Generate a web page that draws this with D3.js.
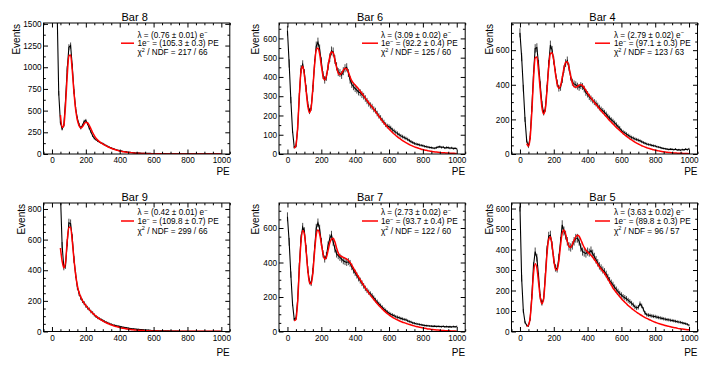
<!DOCTYPE html>
<html><head><meta charset="utf-8">
<script src="https://cdn.jsdelivr.net/npm/d3@7/dist/d3.min.js"></script>
<style>
body{margin:0;background:#fff;}
svg{display:block;font-family:"Liberation Sans",Arial,Helvetica,sans-serif;}
</style></head><body>
<svg id="c" width="714" height="365"></svg>
<script>
// ---------- data ----------
const peBins = d3.range(0, 1001, 10); // bin centres in PE

const titles = ["Bar 8", "Bar 6", "Bar 4", "Bar 9", "Bar 7", "Bar 5"];
const lambdaText = ["0.76 \u00b1 0.01", "3.09 \u00b1 0.02", "2.79 \u00b1 0.02", "0.42 \u00b1 0.01", "2.73 \u00b1 0.02", "3.63 \u00b1 0.02"];
const gainText = ["105.3 \u00b1 0.3", "92.2 \u00b1 0.4", "97.1 \u00b1 0.3", "109.8 \u00b1 0.7", "93.7 \u00b1 0.4", "89.8 \u00b1 0.3"];
const chi2Text = ["217 / 66", "125 / 60", "123 / 63", "299 / 66", "122 / 60", "96 / 57"];
const yMaxes = [1510, 680, 757, 839, 745, 627];
const yMajorStep = [250, 100, 200, 200, 200, 100];
const yMinorStep = [125, 50, 50, 50, 50, 50];
const xMajorTicks = [0, 200, 400, 600, 800, 1000];

const bar8Counts = [9000,9000,6000,1700,700,360,290,330,620,980,
 1230,1250,1010,720,520,410,340,300,330,375,
 385,350,300,255,210,180,165,150,138,128,
 120,108,97,87,78,70,62,55,48,43,
 38,34,30,27,24,21,19,17,15,13,
 12,11,10,9,9,8,8,7,7,6,
 6,5,5,5,4,4,4,4,3,3,
 3,3,3,3,3,2,2,2,2,2,
 2,2,2,2,2,1,1,1,1,1,
 1,1,1,1,1,1,1,1,1,1,1];
const bar8Fit = [null,null,null,null,null,450,305,330,560,900,
 1130,1140,960,710,510,390,325,300,315,345,
 365,360,330,290,248,212,182,160,142,128,
 116,104,93,83,74,66,58,51,45,40,
 35,31,27,24,21,18,16,14,12,10,
 9,8,7,6,5,5,4,4,3,3,
 3,2,2,2,2,2,1,1,1,1,
 1,1,1,1,1,1,1,1,1,1,
 1,1,1,1,1,1,1,1,1,1,
 1,1,1,1,1,1,1,1,1,1,1];

const bar6Counts = [640,470,280,120,35,40,130,300,440,465,
 420,340,260,222,240,340,470,560,580,545,
 480,410,385,400,455,500,535,530,490,455,
 425,420,410,430,445,450,420,385,362,350,
 340,332,322,318,308,300,288,275,262,252,
 245,232,225,210,198,188,175,165,152,145,
 142,135,125,120,112,107,100,94,90,85,
 81,76,70,64,60,55,52,50,47,45,
 43,40,38,36,34,33,31,30,33,36,
 38,34,36,31,34,33,30,32,28,30,27];
const bar6Fit = [null,null,null,null,30,45,135,300,430,455,
 410,330,250,215,240,340,460,540,550,520,
 460,405,385,405,455,505,530,525,490,450,
 420,412,420,435,445,442,425,400,380,368,
 358,348,338,326,314,302,290,278,266,255,
 244,232,220,208,196,184,172,161,150,140,
 130,121,112,104,96,89,82,76,70,64,
 59,54,49,45,41,37,34,31,28,25,
 23,21,19,17,15,14,12,11,10,9,
 8,7,7,6,5,5,4,4,4,3,3];

const bar4Counts = [700,560,380,200,75,45,95,260,460,610,
 615,520,400,290,238,260,380,520,630,600,
 540,470,410,380,385,430,490,525,540,500,
 445,415,405,400,392,385,395,390,375,355,
 345,330,320,310,300,292,280,268,258,250,
 240,230,218,208,198,190,180,170,158,150,
 135,128,122,115,108,102,96,92,87,84,
 80,76,71,66,62,58,55,53,50,48,
 46,42,40,37,34,32,30,28,26,28,
 27,25,28,23,25,22,26,24,28,25,30];
const bar4Fit = [null,null,null,null,60,45,90,240,430,555,
 560,480,370,270,232,260,370,500,580,585,
 540,465,405,380,395,440,495,530,533,500,
 450,410,390,385,390,398,400,395,383,368,
 352,338,324,311,298,286,274,262,250,238,
 227,216,205,194,184,174,164,154,145,136,
 127,118,110,102,95,88,81,75,69,63,
 58,53,48,44,40,36,33,30,27,24,
 22,20,18,16,14,13,11,10,9,8,
 7,6,6,5,5,4,4,3,3,3,2];

const bar9Counts = [9000,9000,9000,9000,5000,900,560,420,430,580,
 710,705,610,470,370,290,248,220,200,185,
 168,155,145,130,122,108,98,90,84,78,
 72,66,61,56,51,47,43,40,37,35,
 33,30,28,26,24,22,20,18,17,16,
 15,14,13,12,11,10,9,9,8,7,
 7,6,6,5,5,5,4,4,4,4,
 3,3,3,3,3,3,2,2,2,2,
 2,2,2,2,2,2,2,2,1,1,
 1,1,1,1,1,1,1,1,1,1,1];
const bar9Fit = [null,null,null,null,null,545,460,415,450,590,
 680,680,590,470,370,300,255,225,202,185,
 170,156,143,131,120,110,100,91,83,76,
 69,63,57,52,47,43,39,35,32,29,
 26,23,21,19,17,15,13,12,11,10,
 9,8,7,6,6,5,5,4,4,4,
 3,3,3,2,2,2,2,2,1,1,
 1,1,1,1,1,1,1,1,1,1,
 1,1,1,1,1,1,1,1,1,1,
 1,1,1,1,1,1,1,1,1,1,1];

const bar7Counts = [665,520,330,160,70,75,180,380,540,605,
 580,480,360,290,280,350,480,600,630,595,
 520,450,420,440,500,540,560,520,480,450,
 440,430,420,410,405,400,405,395,375,355,
 340,325,308,295,280,265,250,238,228,218,
 208,195,182,172,160,150,140,130,122,113,
 106,100,96,92,86,83,80,76,73,70,
 68,62,58,55,50,48,45,43,41,39,
 37,35,34,33,32,31,30,31,29,30,
 29,28,30,27,29,27,28,26,29,27,29];
const bar7Fit = [null,null,null,null,62,70,170,360,520,585,
 565,470,355,285,275,340,460,560,588,565,
 510,450,420,430,470,515,535,540,520,485,
 455,440,435,430,425,420,412,400,385,368,
 350,333,316,300,284,268,253,238,224,211,
 198,186,174,162,151,141,131,121,112,104,
 96,89,83,77,72,67,62,58,54,51,
 48,44,41,38,35,32,29,27,25,23,
 21,19,17,15,14,12,11,10,9,8,
 7,6,6,5,5,4,4,3,3,3,2];

const bar5Counts = [610,260,100,45,30,28,60,170,320,390,
 360,270,170,138,160,270,400,465,470,420,
 350,310,305,360,440,520,490,470,440,415,
 410,420,440,455,455,440,410,390,385,380,
 390,385,395,380,365,350,335,320,310,300,
 292,280,265,250,238,228,215,205,195,185,
 178,170,165,160,152,146,138,130,120,115,
 118,135,125,108,90,82,80,78,76,74,
 73,70,68,66,64,62,60,58,57,55,
 54,52,50,48,46,45,42,40,38,35,30];
const bar5Fit = [null,null,null,null,25,30,65,160,280,330,
 310,240,165,135,160,260,380,450,462,420,
 350,305,300,345,420,480,495,475,440,415,
 410,425,445,462,470,465,448,428,410,397,
 388,380,372,362,351,340,328,315,305,294,
 284,270,256,242,228,212,201,190,180,170,
 160,151,143,135,127,120,113,106,100,94,
 88,83,78,73,68,64,60,56,52,48,
 45,42,39,37,34,32,29,27,25,23,
 21,19,18,16,14,13,12,11,10,9,8];

const countSets = [bar8Counts, bar6Counts, bar4Counts, bar9Counts, bar7Counts, bar5Counts];
const fitSets = [bar8Fit, bar6Fit, bar4Fit, bar9Fit, bar7Fit, bar5Fit];

// ---------- layout ----------
const cols = [{l:43.5, r:229.8, legX:137.5, lx1:121, lx2:134},
              {l:279, r:465.2, legX:381, lx1:362, lx2:378},
              {l:511.5, r:697.5, legX:614, lx1:595, lx2:610}];
const rows = [{t:23, b:154, leg:[34.5, 43.2, 52], peY:175},
              {t:203, b:331.5, leg:[212, 221, 230.5], peY:355.5}];
const yTitleX = [19.5, 259, 492.5, 25, 259, 492.5];

const svg = d3.select("#c");
const defs = svg.append("defs");
const FONT = '"Liberation Sans",Arial,Helvetica,sans-serif';

function addSup(textSel, parts) {
  let up = false;
  parts.forEach(([s, sup]) => {
    const t = textSel.append("tspan").text(s);
    if (sup) { t.attr("font-size", 5.6).attr("dy", -3.2); up = true; }
    else if (up) { t.attr("dy", 3.2); up = false; }
  });
}

titles.forEach((title, i) => {
  const col = cols[i % 3], row = rows[Math.floor(i / 3)];
  const L = col.l, R = col.r, T = row.t, B = row.b;
  const x = d3.scaleLinear().domain([-50, 1050]).range([L, R]);
  const y = d3.scaleLinear().domain([0, yMaxes[i]]).range([B, T]);
  const g = svg.append("g");

  defs.append("clipPath").attr("id", "clip" + i)
    .append("rect").attr("x", L).attr("y", T).attr("width", R - L).attr("height", B - T);
  const pg = g.append("g").attr("clip-path", `url(#clip${i})`);

  const counts = countSets[i];
  const pts = peBins.map((p, k) => ({pe: p, v: counts[k]}));
  // error bars
  pg.selectAll("line.err").data(pts).join("line").attr("class", "err")
    .attr("x1", d => x(d.pe)).attr("x2", d => x(d.pe))
    .attr("y1", d => y(d.v + Math.sqrt(d.v)))
    .attr("y2", d => y(Math.max(0, d.v - Math.sqrt(d.v))))
    .attr("stroke", "#4a4a4a").attr("stroke-width", 1);
  // data line
  pg.append("path").datum(pts)
    .attr("d", d3.line().x(d => x(d.pe)).y(d => y(d.v)))
    .attr("fill", "none").attr("stroke", "#000").attr("stroke-width", 1.1);
  // fit
  const fit = fitSets[i];
  const fpts = peBins.map((p, k) => ({pe: p, v: fit[k]}));
  pg.append("path").datum(fpts)
    .attr("d", d3.line().defined(d => d.v !== null).curve(d3.curveMonotoneX)
      .x(d => x(d.pe)).y(d => y(d.v)))
    .attr("fill", "none").attr("stroke", "#ff0000").attr("stroke-width", 1.5);

  // axes
  const xMinor = d3.range(-50, 1051, 50).filter(v => v % 200 !== 0);
  const yMajor = d3.range(0, yMaxes[i] + 1, yMajorStep[i]);
  const yMinor = d3.range(0, yMaxes[i] + 1, yMinorStep[i]).filter(v => v % yMajorStep[i] !== 0);

  const styleAxis = sel => {
    sel.select(".domain").remove();
    sel.attr("font-family", FONT).attr("font-size", 8.2);
    sel.selectAll("line").attr("stroke", "#000").attr("stroke-width", 1);
    sel.selectAll("text").attr("fill", "#000");
  };
  g.append("g").attr("transform", `translate(0,${B})`)
    .call(d3.axisBottom(x).tickValues(xMajorTicks).tickSize(-4.5).tickPadding(3.4).tickFormat(d3.format("d")))
    .call(styleAxis);
  g.append("g").attr("transform", `translate(0,${B})`)
    .call(d3.axisBottom(x).tickValues(xMinor).tickSize(-2.3).tickFormat(""))
    .call(styleAxis);
  g.append("g").attr("transform", `translate(0,${T})`)
    .call(d3.axisTop(x).tickValues(xMajorTicks).tickSize(-4.5).tickFormat(""))
    .call(styleAxis);
  g.append("g").attr("transform", `translate(0,${T})`)
    .call(d3.axisTop(x).tickValues(xMinor).tickSize(-2.3).tickFormat(""))
    .call(styleAxis);
  g.append("g").attr("transform", `translate(${L},0)`)
    .call(d3.axisLeft(y).tickValues(yMajor).tickSize(-4.5).tickPadding(2).tickFormat(d3.format("d")))
    .call(styleAxis);
  g.append("g").attr("transform", `translate(${L},0)`)
    .call(d3.axisLeft(y).tickValues(yMinor).tickSize(-2.3).tickFormat(""))
    .call(styleAxis);
  g.append("g").attr("transform", `translate(${R},0)`)
    .call(d3.axisRight(y).tickValues(yMajor).tickSize(-4.5).tickFormat(""))
    .call(styleAxis);
  g.append("g").attr("transform", `translate(${R},0)`)
    .call(d3.axisRight(y).tickValues(yMinor).tickSize(-2.3).tickFormat(""))
    .call(styleAxis);

  // frame
  g.append("rect").attr("x", L).attr("y", T).attr("width", R - L).attr("height", B - T)
    .attr("fill", "none").attr("stroke", "#000").attr("stroke-width", 1);

  // titles
  g.append("text").attr("x", (L + R) / 2 - 2).attr("y", T - 2.5)
    .attr("text-anchor", "middle").attr("font-size", 11).attr("font-family", FONT)
    .text(title);
  g.append("text").attr("x", R).attr("y", row.peY)
    .attr("text-anchor", "end").attr("font-size", 10).attr("font-family", FONT)
    .text("PE");
  g.append("text").attr("transform", `translate(${yTitleX[i]},${T + 1}) rotate(-90)`)
    .attr("text-anchor", "end").attr("font-size", 10).attr("font-family", FONT)
    .text("Events");

  // legend
  g.append("line").attr("x1", col.lx1).attr("x2", col.lx2)
    .attr("y1", row.leg[1]).attr("y2", row.leg[1])
    .attr("stroke", "#ff0000").attr("stroke-width", 1.5);
  const mk = k => g.append("text").attr("x", col.legX).attr("y", row.leg[k] + 3)
    .attr("font-size", 8.2).attr("font-family", FONT);
  addSup(mk(0), [["\u03bb = (" + lambdaText[i] + ") e", false], ["\u2212", true]]);
  addSup(mk(1), [["1e", false], ["\u2212", true], [" = (" + gainText[i] + ") PE", false]]);
  addSup(mk(2), [["\u03c7", false], ["2", true], [" / NDF = " + chi2Text[i], false]]);
});
</script>
</body></html>
